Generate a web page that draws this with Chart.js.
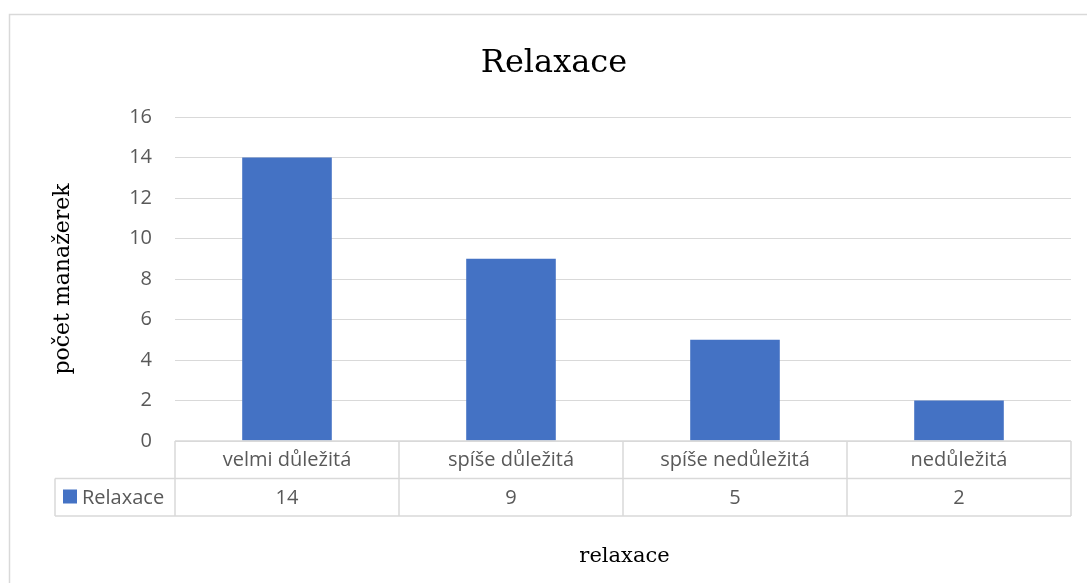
<!DOCTYPE html>
<html>
<head>
<meta charset="utf-8">
<script src="https://cdn.jsdelivr.net/npm/chart.js@4/dist/chart.umd.min.js"></script>
<style>
  html, body { margin: 0; padding: 0; background: #ffffff; overflow: hidden; }
  #wrap { width: 1087px; height: 583px; position: relative; }
</style>
</head>
<body>
<div id="wrap"><canvas id="c" width="1087" height="583"></canvas></div>
<script>
// Chart content
const chartTitle = 'Relaxace';
const seriesName = 'Relaxace';
const categories = ['velmi důležitá', 'spíše důležitá', 'spíše nedůležitá', 'nedůležitá'];
const values = [14, 9, 5, 2];
const xAxisTitle = 'relaxace';
const yAxisTitle = 'počet manažerek';
const yMin = 0;
const yMax = 16;
const yStep = 2;

// Styling
const BAR_COLOR = '#4472C4';
const GRID_COLOR = '#d9d9d9';
const TEXT_GRAY = '#595959';
const SANS = '"Open Sans", "Liberation Sans", sans-serif';
const SERIF = '"DejaVu Serif", "Liberation Serif", serif';

// Draws the outer frame, chart title, x-axis title and the data table under the plot
const frameAndTable = {
  id: 'frameAndTable',
  afterDraw(chart) {
    const ctx = chart.ctx;
    const area = chart.chartArea;
    const xs = chart.scales.x;
    ctx.save();

    // outer frame
    ctx.strokeStyle = GRID_COLOR;
    ctx.lineWidth = 1.5;
    ctx.strokeRect(9.5, 14.5, 1200, 700);

    // chart title
    ctx.fillStyle = '#000000';
    ctx.textAlign = 'center';
    ctx.textBaseline = 'alphabetic';
    ctx.font = '32px ' + SERIF;
    ctx.fillText(chartTitle, 554, 72);

    // x-axis title
    ctx.font = '21px ' + SERIF;
    ctx.fillText(xAxisTitle, 624.5, 562);

    // data table
    const step = xs.getPixelForValue(1) - xs.getPixelForValue(0);
    const left = xs.getPixelForValue(0) - step / 2;
    const right = left + step * categories.length;
    const top = area.bottom;
    const rowH = 37.5;
    const keyLeft = 55;

    ctx.strokeStyle = GRID_COLOR;
    ctx.lineWidth = 1.5;
    ctx.beginPath();
    ctx.moveTo(left, top); ctx.lineTo(right, top);
    ctx.moveTo(keyLeft, top + rowH); ctx.lineTo(right, top + rowH);
    ctx.moveTo(keyLeft, top + 2 * rowH); ctx.lineTo(right, top + 2 * rowH);
    for (let i = 0; i <= categories.length; i++) {
      const x = left + i * step;
      ctx.moveTo(x, top); ctx.lineTo(x, top + 2 * rowH);
    }
    ctx.moveTo(keyLeft, top + rowH); ctx.lineTo(keyLeft, top + 2 * rowH);
    ctx.stroke();

    ctx.fillStyle = TEXT_GRAY;
    ctx.font = '20px ' + SANS;
    ctx.textAlign = 'center';
    ctx.textBaseline = 'middle';
    categories.forEach((c, i) => {
      const cx = xs.getPixelForValue(i);
      ctx.fillText(c, cx, top + rowH / 2 + 1);
      ctx.fillText(String(values[i]), cx, top + rowH * 1.5 + 1);
    });

    // legend key in the table
    ctx.fillStyle = BAR_COLOR;
    ctx.fillRect(63, top + rowH + 11, 14, 14);
    ctx.fillStyle = TEXT_GRAY;
    ctx.textAlign = 'left';
    ctx.fillText(seriesName, 82, top + rowH * 1.5 + 1);

    ctx.restore();
  }
};

function build() {
  new Chart(document.getElementById('c'), {
    type: 'bar',
    data: {
      labels: categories,
      datasets: [{
        label: seriesName,
        data: values,
        backgroundColor: BAR_COLOR,
        borderWidth: 0,
        barPercentage: 0.4,
        categoryPercentage: 1.0
      }]
    },
    options: {
      responsive: false,
      animation: false,
      devicePixelRatio: 1,
      layout: { padding: { left: 40, top: 117, right: 16, bottom: 142 } },
      plugins: {
        legend: { display: false },
        tooltip: { enabled: false },
        title: { display: false }
      },
      scales: {
        x: { display: false },
        y: {
          min: yMin,
          max: yMax,
          ticks: {
            stepSize: yStep,
            color: TEXT_GRAY,
            font: { family: SANS, size: 20 },
            padding: 23
          },
          grid: { color: GRID_COLOR, lineWidth: 1, drawTicks: false },
          border: { display: false },
          title: {
            display: true,
            text: yAxisTitle,
            color: '#000000',
            font: { family: SERIF, size: 22 },
            padding: { top: 10, bottom: 0 }
          },
          afterFit(scale) { scale.width = 135; }
        }
      }
    },
    plugins: [frameAndTable]
  });
}

const fontLoads = [
  '20px "Open Sans"', '32px "DejaVu Serif"'
].map(f => document.fonts.load(f).catch(() => null));
Promise.all(fontLoads).then(build, build);
</script>
</body>
</html>
